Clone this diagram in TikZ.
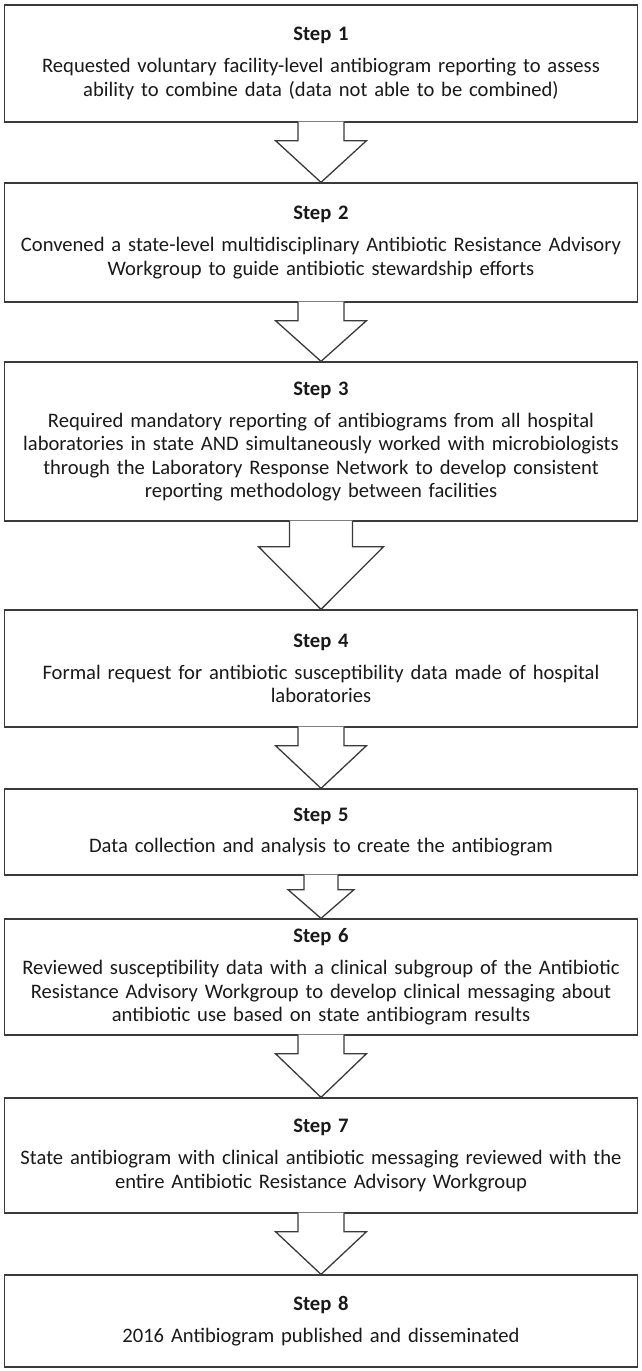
\documentclass[tikz,border=0pt]{standalone}
\usepackage{fontspec}
\setmainfont{Carlito}
\usetikzlibrary{calc}
\definecolor{linec}{HTML}{3A3A3A}
\definecolor{textc}{HTML}{1A1A1A}
\tikzset{
  stepbox/.style={draw=linec, line width=1.3pt, fill=white, rectangle,
    minimum width=633pt, inner sep=0pt, align=center, text width=628pt,
    text=textc, font=\fontsize{20.6}{23.4}\selectfont},
  arrowline/.style={draw=linec, line width=1.3pt, line join=miter},
}
\newcommand\steplabel[1]{\textbf{Step #1}\\[8.4pt]}
% #1 from node, #2 to node, #3 shaft half width, #4 head half width, #5 shaft length
\newcommand\blockarrow[5]{%
  \fill[white] ($(#1.south)+(-#3,-1)$) -- ($(#1.south)+(-#3,#5)$) -- ($(#1.south)+(-#4,#5)$)
    -- (#2.north) -- ($(#1.south)+(#4,#5)$) -- ($(#1.south)+(#3,#5)$) -- ($(#1.south)+(#3,-1)$) -- cycle;
  \draw[arrowline] ($(#1.south)+(-#3,-0.65)$) -- ($(#1.south)+(-#3,#5)$) -- ($(#1.south)+(-#4,#5)$)
    -- (#2.north) -- ($(#1.south)+(#4,#5)$) -- ($(#1.south)+(#3,#5)$) -- ($(#1.south)+(#3,-0.65)$);}
\begin{document}
\begin{tikzpicture}[x=1pt,y=-1pt]
\useasboundingbox[fill=white] (0,0) rectangle (642,1371);

\node[stepbox, minimum height=117pt] (b1) at (321,63.5)
  {\steplabel{1}Requested voluntary facility-level antibiogram reporting to assess\\ability to combine data (data not able to be combined)};
\node[stepbox, minimum height=119pt] (b2) at (321,242.5)
  {\steplabel{2}Convened a state-level multidisciplinary Antibiotic Resistance Advisory\\Workgroup to guide antibiotic stewardship efforts};
\node[stepbox, minimum height=159pt] (b3) at (321,441.5)
  {\steplabel{3}Required mandatory reporting of antibiograms from all hospital\\laboratories in state AND simultaneously worked with microbiologists\\through the Laboratory Response Network to develop consistent\\reporting methodology between facilities};
\node[stepbox, minimum height=117pt] (b4) at (321,668.5)
  {\steplabel{4}Formal request for antibiotic susceptibility data made of hospital\\laboratories};
\node[stepbox, minimum height=86pt] (b5) at (321,832)
  {\steplabel{5}Data collection and analysis to create the antibiogram};
\node[stepbox, minimum height=116pt] (b6) at (321,977)
  {\steplabel{6}Reviewed susceptibility data with a clinical subgroup of the Antibiotic\\Resistance Advisory Workgroup to develop clinical messaging about\\antibiotic use based on state antibiogram results};
\node[stepbox, minimum height=115pt] (b7) at (321,1155.5)
  {\steplabel{7}State antibiogram with clinical antibiotic messaging reviewed with the\\entire Antibiotic Resistance Advisory Workgroup};
\node[stepbox, minimum height=92pt] (b8) at (321,1321)
  {\steplabel{8}2016 Antibiogram published and disseminated};

\blockarrow{b1}{b2}{23}{45.5}{18}
\blockarrow{b2}{b3}{23}{45.5}{18}
\blockarrow{b3}{b4}{31.5}{62.5}{25}
\blockarrow{b4}{b5}{23}{45.5}{18}
\blockarrow{b5}{b6}{17}{33}{14}
\blockarrow{b6}{b7}{23}{45.5}{18}
\blockarrow{b7}{b8}{23}{45.5}{18}
\end{tikzpicture}
\end{document}
